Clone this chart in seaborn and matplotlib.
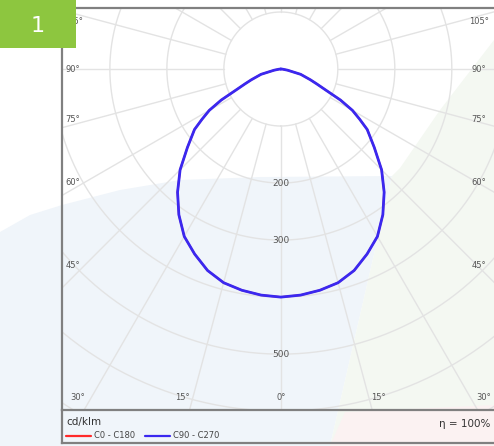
import numpy as np
import matplotlib
matplotlib.use("Agg")
import matplotlib.pyplot as plt
from matplotlib.patches import Polygon, Rectangle
import seaborn as sns

# intensity distribution, cd/klm (gamma in degrees)
gamma = [0, 5, 10, 15, 20, 25, 30, 35, 40, 45, 50, 55, 57.5, 60, 62.5, 65, 67.5, 70, 75, 80, 85, 90]
c90_c270 = [400, 398, 394, 388, 376, 358, 339, 312, 282, 250, 214, 185, 164, 145, 118, 86, 68, 55, 36, 12, 3, 0]
c0_c180 = [400, 398, 394, 388, 376, 358, 339, 312, 282, 250, 214, 185, 164, 145, 118, 86, 68, 55, 36, 12, 3, 0]

radius_labels = [200, 300, 500]
side_labels = ["105°", "90°", "75°", "60°", "45°"]
bottom_labels = ["30°", "15°", "0°", "15°", "30°"]
series_names = ["C0 - C180", "C90 - C270"]
unit = "cd/klm"
eta_text = "η = 100%"

W, H = 494, 446
sns.set_style("white")
plt.rcParams["font.family"] = ["DejaVu Sans"]

fig = plt.figure(figsize=(W / 100, H / 100), dpi=100)

def fx(px):
    return px / W

def fy(py):
    return 1 - py / H

# soft background tints on a full-figure axes
bg = fig.add_axes([0, 0, 1, 1], zorder=0)
bg.set_xlim(0, W)
bg.set_ylim(H, 0)
bg.axis("off")
blue_bg = [(0, 232), (30, 215), (62, 205), (120, 190), (180, 180), (260, 177), (392, 176), (330, 446), (0, 446)]
green_bg = [(494, 40), (440, 110), (400, 168), (392, 176), (330, 446), (494, 446)]
pink_bg = [(330, 446), (345, 412), (494, 405), (494, 446)]
for pts, col in [(blue_bg, "#f0f5fa"), (green_bg, "#f4f8f2"), (pink_bg, "#fbf2f2")]:
    bg.add_patch(Polygon(pts, closed=True, facecolor=col, edgecolor="none"))

ax = fig.add_axes([fx(62), fy(410), fx(494 - 62) + 0.01, (410 - 8) / H], zorder=1)
ax.set_facecolor("none")
ax.set_xlim(-384, 374 + 0.01 * W / 0.57)
ax.set_ylim(-598, 107)

# grid: circles and radial rays
t = np.linspace(0, 2 * np.pi, 400)
for r in range(100, 900, 100):
    ax.plot(r * np.sin(t), -r * np.cos(t), color="#e3e3e3", lw=1.0, zorder=1)
for a in range(0, 360, 15):
    ar = np.radians(a)
    ax.plot([100 * np.sin(ar), 900 * np.sin(ar)], [-100 * np.cos(ar), -900 * np.cos(ar)],
            color="#e3e3e3", lw=1.0, zorder=1)

for r in radius_labels:
    ax.text(0, -r, str(r), ha="center", va="center", fontsize=6.5, color="#555555", zorder=2)

# curves (symmetric halves)
g = np.radians(np.array([-x for x in gamma[::-1]] + gamma[1:]))
for vals, col, name, w in [(c0_c180, "#ff2a2a", series_names[0], 1.4),
                           (c90_c270, "#3a28f0", series_names[1], 2.0)]:
    rr = np.array(vals[::-1] + vals[1:], dtype=float)
    sns.lineplot(x=rr * np.sin(g), y=-rr * np.cos(g), sort=False, estimator=None,
                 color=col, lw=w, ax=ax, label=name, zorder=3)
ax.get_legend().remove()

ax.set_xticks([])
ax.set_yticks([])
for s in ["left", "top", "bottom"]:
    ax.spines[s].set_color("#808080")
    ax.spines[s].set_linewidth(1.6)
ax.spines["right"].set_visible(False)

# angle labels
side_y = [22, 69, 120, 182, 265]
for lab, py in zip(side_labels, side_y):
    fig.text(fx(73), fy(py), lab, ha="center", va="center", fontsize=6, color="#555555", zorder=3)
    fig.text(fx(479), fy(py), lab, ha="center", va="center", fontsize=6, color="#555555", zorder=3)
bottom_x = [78, 182, 281, 378, 484]
for lab, px in zip(bottom_labels, bottom_x):
    fig.text(fx(px), fy(398), lab, ha="center", va="center", fontsize=6, color="#555555", zorder=3)

# legend area
lax = fig.add_axes([fx(62), fy(443), fx(494 - 62) + 0.01, (443 - 410) / H], zorder=1)
lax.set_facecolor("none")
lax.set_xticks([])
lax.set_yticks([])
for s in ["left", "bottom"]:
    lax.spines[s].set_color("#808080")
    lax.spines[s].set_linewidth(1.6)
lax.spines["top"].set_visible(False)
lax.spines["right"].set_visible(False)

fig.text(fx(66), fy(422), unit, ha="left", va="center", fontsize=7.5, color="#333333", zorder=3)
fig.text(fx(490), fy(424), eta_text, ha="right", va="center", fontsize=7.5, color="#333333", zorder=3)
handles, labels = ax.get_legend_handles_labels()
leg = fig.legend(handles, labels, loc="center left", bbox_to_anchor=(fx(66), fy(436)), ncol=2,
                 frameon=False, fontsize=6, handlelength=3.0, handletextpad=0.3, columnspacing=1.3,
                 labelcolor="#444444", borderpad=0, borderaxespad=0)
leg.set_zorder(3)
for h in leg.legend_handles:
    h.set_linewidth(1.6)

# badge
badge_ax = fig.add_axes([0, fy(48), fx(76), 48 / H], zorder=4)
badge_ax.axis("off")
badge_ax.add_patch(Rectangle((0, 0), 1, 1, facecolor="#8dc63f", edgecolor="none"))
badge_ax.text(0.5, 0.45, "1", ha="center", va="center", fontsize=16, color="white")

fig.savefig("out.png", dpi=100)
